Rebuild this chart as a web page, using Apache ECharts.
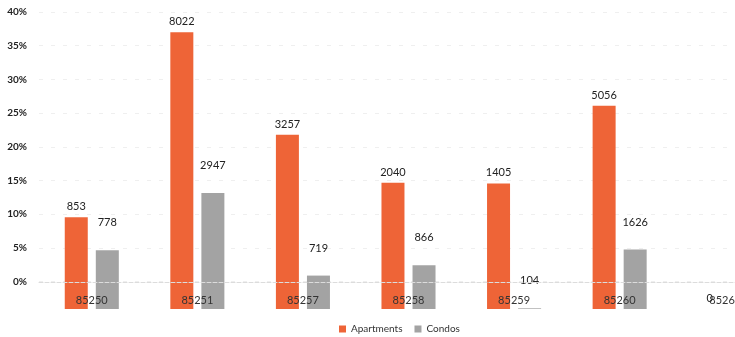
<!DOCTYPE html>
<html>
<head>
<meta charset="utf-8">
<script src="https://cdn.jsdelivr.net/npm/echarts@6/dist/echarts.min.js"></script>
<style>
html, body { margin: 0; padding: 0; background: #fff; overflow: hidden; }
/* the last category runs past the right edge of the window, as in the source */
#chart { width: 778px; height: 337px; }
</style>
</head>
<body>
<div id="chart"></div>
<script>
// zip codes and shares (%)
var zipCodes = ['85250', '85251', '85257', '85258', '85259', '85260', '85266'];
var apartmentsPct = [9.6, 37.0, 21.8, 14.7, 14.6, 26.1, -4];
var condosPct = [4.7, 13.2, 0.95, 2.5, -3.9, 4.8, -4];
// counts shown as labels
var apartmentsCount = [853, 8022, 3257, 2040, 1405, 5056, 0];
var condosCount = [778, 2947, 719, 866, 104, 1626, 0];
// y tick labels
var yTicks = [0, 5, 10, 15, 20, 25, 30, 35, 40];

var myChart = echarts.init(document.getElementById('chart'));
var font = 'Lato, "Open Sans", sans-serif';
var orange = '#ee6437';
var grey = '#a3a3a3';

var option = {
    animation: false,
    textStyle: { fontFamily: font },
    color: [orange, grey],
    grid: [
        // bars
        { left: 39, right: 0, top: 12, bottom: 28 },
        // 0%..40% part, only for labels and grid lines
        { left: 39, right: 0, top: 12, bottom: 55.3 }
    ],
    legend: {
        data: ['Apartments', 'Condos'],
        left: 334,
        top: 319,
        icon: 'rect',
        itemWidth: 7,
        itemHeight: 7,
        itemGap: 12,
        textStyle: { fontSize: 10, color: '#333', fontFamily: font }
    },
    xAxis: [
        {
            type: 'category',
            gridIndex: 0,
            data: zipCodes,
            axisLine: { show: true, lineStyle: { color: '#dcdcdc', type: 'dashed' } },
            axisTick: { show: false },
            axisLabel: { inside: true, margin: 3, color: '#333', fontSize: 11, fontFamily: font },
            z: 10
        },
        { type: 'category', gridIndex: 1, data: zipCodes, show: false }
    ],
    yAxis: [
        {
            type: 'value',
            gridIndex: 0,
            min: -4,
            max: 40,
            startValue: -4,
            axisLine: { show: false },
            axisTick: { show: false },
            splitLine: { show: false },
            axisLabel: { show: false }
        },
        {
            type: 'value',
            gridIndex: 1,
            min: 0,
            max: 40,
            interval: 5,
            axisLine: { show: false },
            axisTick: { show: false },
            splitLine: { show: true, lineStyle: { color: '#efefef', type: [4, 8] } },
            axisLabel: {
                margin: 12,
                color: '#222',
                fontSize: 10,
                fontWeight: 'bold',
                fontFamily: font,
                formatter: function (v) {
                    return yTicks.indexOf(v) >= 0 ? v + '%' : '';
                }
            }
        }
    ],
    series: [
        {
            name: 'Apartments',
            type: 'bar',
            xAxisIndex: 0,
            yAxisIndex: 0,
            data: apartmentsPct,
            barWidth: 23,
            barGap: '35%',
            itemStyle: { color: orange },
            label: {
                show: true,
                position: 'top',
                distance: 5,
                color: '#222',
                fontSize: 11,
                fontFamily: font,
                formatter: function (p) { return apartmentsCount[p.dataIndex]; }
            }
        },
        {
            name: 'Condos',
            type: 'bar',
            xAxisIndex: 0,
            yAxisIndex: 0,
            data: condosPct,
            barWidth: 23,
            itemStyle: { color: grey },
            label: {
                show: true,
                position: 'top',
                distance: 22,
                color: '#222',
                fontSize: 11,
                fontFamily: font,
                formatter: function (p) { return condosCount[p.dataIndex]; }
            }
        }
    ]
};
myChart.setOption(option);
</script>
</body>
</html>
